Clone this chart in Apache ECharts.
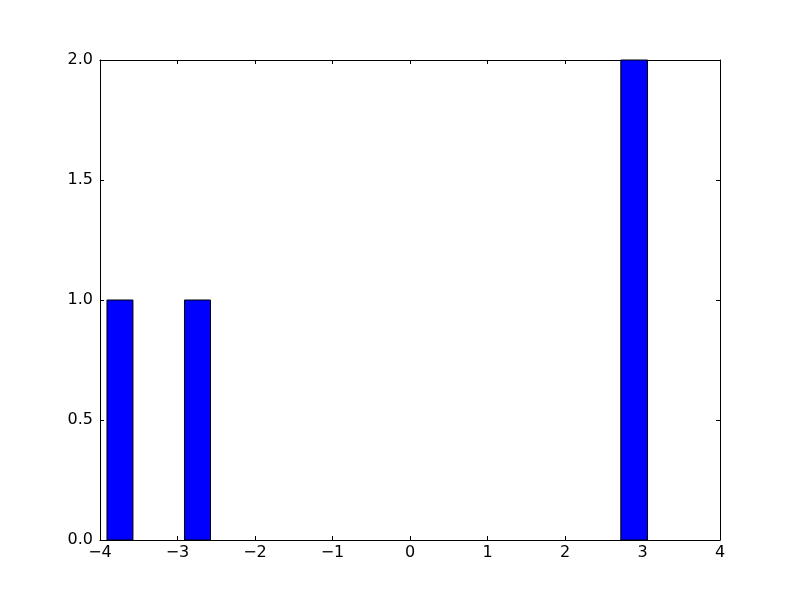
<!DOCTYPE html>
<html>
<head>
<meta charset="utf-8">
<script src="https://cdn.jsdelivr.net/npm/echarts@6/dist/echarts.min.js"></script>
<style>html,body{margin:0;padding:0;background:#fff}#c{width:800px;height:600px}</style>
</head>
<body>
<div id="c"></div>
<script>
// Histogram bins: left edge, right edge, count
var binLeft = [-3.91, -2.91, 2.72];
var binRight = [-3.575, -2.575, 3.065];
var counts = [1, 1, 2];
var xTicks = [-4, -3, -2, -1, 0, 1, 2, 3, 4];
var yTicks = [0.0, 0.5, 1.0, 1.5, 2.0];

var data = binLeft.map(function (l, i) { return [l, binRight[i], counts[i]]; });
var font = 'DejaVu Sans';
function fmtX(v) { return String(v).replace('-', '\u2212'); }
function fmtY(v) { return v.toFixed(1); }
var axLine = { show: true, onZero: false, lineStyle: { color: '#000', width: 1 } };
var tick = { show: true, inside: true, length: 4, lineStyle: { color: '#000' } };

var chart = echarts.init(document.getElementById('c'), null, { renderer: 'canvas' });
chart.setOption({
  animation: false,
  backgroundColor: '#fff',
  grid: { left: 100, right: 80, top: 60, bottom: 60 },
  xAxis: [
    { type: 'value', min: -4, max: 4, interval: 1, position: 'bottom',
      axisLine: axLine, axisTick: tick, splitLine: { show: false },
      axisLabel: { formatter: fmtX, color: '#000', fontFamily: font, fontSize: 16, margin: 5 } },
    { type: 'value', min: -4, max: 4, interval: 1, position: 'top',
      axisLine: axLine, axisTick: tick, splitLine: { show: false }, axisLabel: { show: false } }
  ],
  yAxis: [
    { type: 'value', min: 0, max: 2, interval: 0.5, position: 'left',
      axisLine: axLine, axisTick: tick, splitLine: { show: false },
      axisLabel: { formatter: fmtY, color: '#000', fontFamily: font, fontSize: 16, margin: 7 } },
    { type: 'value', min: 0, max: 2, interval: 0.5, position: 'right',
      axisLine: axLine, axisTick: tick, splitLine: { show: false }, axisLabel: { show: false } }
  ],
  series: [{
    type: 'custom',
    xAxisIndex: 0, yAxisIndex: 0,
    data: data,
    renderItem: function (params, api) {
      var p0 = api.coord([api.value(0), 0]);
      var p1 = api.coord([api.value(1), api.value(2)]);
      return {
        type: 'rect',
        shape: { x: p0[0], y: p1[1], width: p1[0] - p0[0], height: p0[1] - p1[1] },
        style: { fill: '#0000ff', stroke: '#000', lineWidth: 1 }
      };
    },
    encode: { x: [0, 1], y: 2 }
  }]
});
</script>
</body>
</html>
